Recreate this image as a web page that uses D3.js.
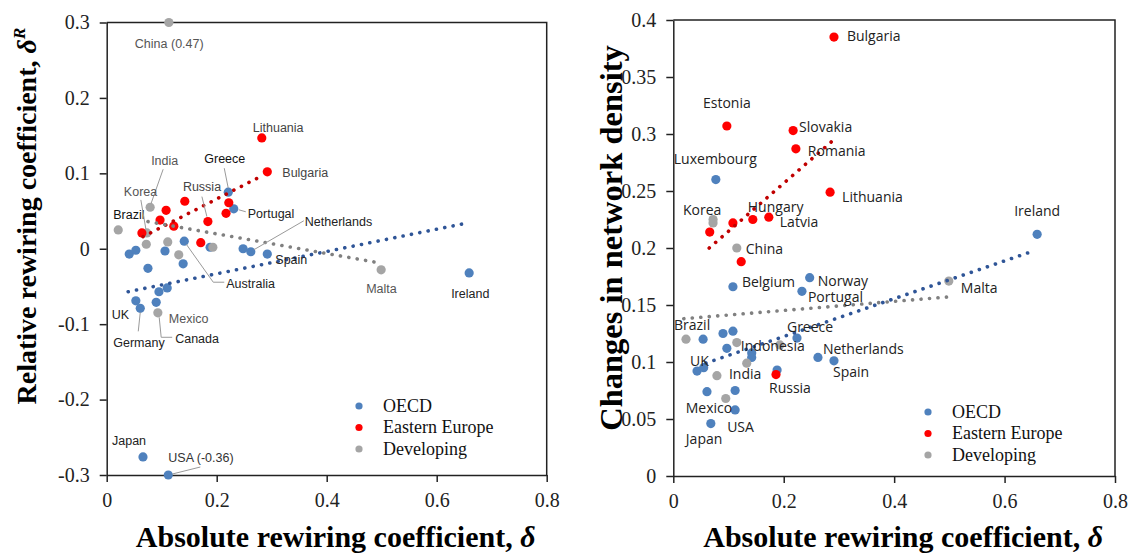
<!DOCTYPE html>
<html><head><meta charset="utf-8">
<script src="https://cdn.jsdelivr.net/npm/d3@7"></script>
<style>body{margin:0;background:#fff} svg{display:block}</style>
</head><body><svg id="c" width="1141" height="555"></svg>
<script>
// ================= DATA =================
const groups = ["OECD", "Eastern Europe", "Developing"];
const xTicks = [0, 0.2, 0.4, 0.6, 0.8];

// ---- Left panel: relative rewiring coefficient vs absolute rewiring coefficient
const L_oecdNames = ["Greece","Portugal","","","","","Australia","","","","Netherlands","Spain","","","Canada","UK","Germany","Ireland","Japan","USA (-0.36)"];
const L_oecdX = [0.221,0.231,0.041,0.053,0.075,0.106,0.141,0.139,0.188,0.248,0.262,0.292,0.110,0.095,0.090,0.053,0.061,0.659,0.066,0.112];
const L_oecdY = [0.075,0.053,-0.007,-0.002,-0.026,-0.003,0.010,-0.020,0.002,0.000,-0.004,-0.007,-0.052,-0.057,-0.071,-0.069,-0.079,-0.032,-0.276,-0.36];
const L_eeNames = ["Lithuania","Bulgaria","","","Russia","","","","","",""];
const L_eeX = [0.282,0.292,0.222,0.217,0.184,0.142,0.108,0.097,0.122,0.064,0.171];
const L_eeY = [0.147,0.102,0.061,0.047,0.036,0.063,0.051,0.038,0.030,0.021,0.008];
const L_devNames = ["China (0.47)","India","Brazil","Korea","","","","","Mexico","Malta"];
const L_devX = [0.113,0.079,0.021,0.073,0.072,0.111,0.131,0.193,0.093,0.499];
const L_devY = [0.47,0.055,0.025,0.021,0.006,0.009,-0.008,0.002,-0.085,-0.028];
const L_yTicks = [-0.3,-0.2,-0.1,0,0.1,0.2,0.3];
// linear trend end points per group
const L_trendX = [[0.039,0.648],[0.066,0.283],[0.075,0.490]];
const L_trendY = [[-0.057,0.033],[0.016,0.097],[0.036,-0.018]];

// ---- Right panel: changes in network density vs absolute rewiring coefficient
const R_oecdNames = ["Luxembourg","Norway","Portugal","Belgium","Ireland","","","","","Greece","","","UK","","Netherlands","Spain","","","","USA","Japan"];
const R_oecdX = [0.077,0.247,0.233,0.108,0.659,0.054,0.090,0.108,0.097,0.224,0.142,0.142,0.043,0.055,0.262,0.291,0.188,0.061,0.112,0.112,0.068];
const R_oecdY = [0.260,0.174,0.162,0.166,0.212,0.120,0.125,0.127,0.112,0.121,0.108,0.104,0.092,0.095,0.104,0.101,0.093,0.074,0.075,0.058,0.046];
const R_eeNames = ["Bulgaria","Estonia","Slovakia","Romania","Lithuania","","","Hungary","Latvia","","Russia"];
const R_eeX = [0.291,0.097,0.217,0.222,0.284,0.108,0.066,0.144,0.173,0.123,0.186];
const R_eeY = [0.385,0.307,0.303,0.287,0.249,0.222,0.214,0.225,0.227,0.188,0.089];
const R_devNames = ["Korea","","China","Malta","Brazil","","Indonesia","","India","Mexico"];
const R_devX = [0.072,0.072,0.115,0.499,0.023,0.115,0.193,0.133,0.079,0.095];
const R_devY = [0.225,0.222,0.200,0.171,0.120,0.117,0.115,0.099,0.088,0.068];
const R_yTicks = [0,0.05,0.1,0.15,0.2,0.25,0.3,0.35,0.4];
const R_trendX = [[0.059,0.644],[0.065,0.293],[0.019,0.496]];
const R_trendY = [[0.099,0.196],[0.200,0.296],[0.138,0.157]];

// ================= STYLE / LAYOUT =================
const markColor = ["#4F81BD", "#FF0000", "#A5A5A5"];
const trendColor = ["#2F5597", "#C00000", "#808080"];
// label placement: pixel offset from its point, optional leader polyline (offsets)
const L_labelLayout = {
  "Greece": {dx:-24, dy:-34, c:"#111", leader:[[-4,-24],[0,-4]]},
  "Portugal": {dx:14, dy:5, c:"#222", leader:[[5,1],[12,3]]},
  "Australia": {dx:42, dy:42, c:"#222", leader:[[2,3],[29,41],[40,41]]},
  "Netherlands": {dx:54, dy:-30, c:"#222", leader:[[53,-31],[3,-2]]},
  "Spain": {dx:8, dy:6, c:"#222"},
  "Canada": {dx:19, dy:36, c:"#222", leader:[[3,15],[5,35],[16,35]]},
  "UK": {dx:-24, dy:14, c:"#222"},
  "Germany": {dx:-27, dy:34, c:"#222", leader:[[0,4],[-2,23]]},
  "Ireland": {dx:-18, dy:21, c:"#222"},
  "Japan": {dx:-31, dy:-16, c:"#222"},
  "USA (-0.36)": {dx:0, dy:-17, c:"#333", leader:[[4,-1],[32,-8]]},
  "Lithuania": {dx:-9, dy:-10, c:"#444"},
  "Bulgaria": {dx:15, dy:1, c:"#444"},
  "Russia": {dx:-25, dy:-35, c:"#444", leader:[[-6,-25],[-1,-5]]},
  "China (0.47)": {dx:-34, dy:21, c:"#555"},
  "India": {dx:1, dy:-47, c:"#555", leader:[[13,-38],[1,-4]]},
  "Brazil": {dx:-5, dy:-15, c:"#111"},
  "Korea": {dx:-23, dy:-41, c:"#555", leader:[[-6,-33],[-1,-4]]},
  "Mexico": {dx:11, dy:6, c:"#555"},
  "Malta": {dx:-15, dy:19, c:"#555"}
};
const R_labelLayout = {
  "Bulgaria": {dx:13, dy:-1}, "Estonia": {dx:0, dy:-23, a:"middle"},
  "Slovakia": {dx:6, dy:-3}, "Romania": {dx:12, dy:2},
  "Luxembourg": {dx:-42, dy:-21}, "Lithuania": {dx:12, dy:5},
  "Ireland": {dx:-23, dy:-23}, "Korea": {dx:-30, dy:-9},
  "Hungary": {dx:-5, dy:-12}, "Latvia": {dx:11, dy:5},
  "China": {dx:9, dy:1}, "Belgium": {dx:9, dy:-5},
  "Norway": {dx:8, dy:3}, "Portugal": {dx:6, dy:6},
  "Malta": {dx:12, dy:7}, "Brazil": {dx:-12, dy:-14},
  "Greece": {dx:-10, dy:-11}, "Indonesia": {dx:-39, dy:1},
  "Netherlands": {dx:5, dy:-8}, "UK": {dx:-7, dy:-10},
  "Spain": {dx:-1, dy:11}, "India": {dx:12, dy:-2},
  "Russia": {dx:-7, dy:14}, "Mexico": {dx:-40, dy:10},
  "USA": {dx:-8, dy:17}, "Japan": {dx:-25, dy:16}
};

const svg = d3.select("#c");
const serif = "'Liberation Serif','Times New Roman',serif";
const fmt = d => String(Math.round(d * 100) / 100);

function panel(cfg) {
  const x = d3.scaleLinear().domain([0, 0.8]).range(cfg.xr);
  const y = d3.scaleLinear().domain(cfg.yd).range(cfg.yr).clamp(true);
  const g = svg.append("g");

  // frame (top + right)
  g.append("path")
    .attr("d", `M${x(0)},${y(cfg.yd[1])}H${x(0.8)}V${y(cfg.yd[0])}`)
    .attr("fill", "none").attr("stroke", "#222").attr("stroke-width", 1.5);

  const ax = g.append("g").attr("transform", `translate(0,${y(cfg.yd[0])})`)
    .call(d3.axisBottom(x).tickValues(xTicks).tickFormat(fmt).tickSize(7).tickSizeOuter(0).tickPadding(11));
  const ay = g.append("g").attr("transform", `translate(${x(0)},0)`)
    .call(d3.axisLeft(y).tickValues(cfg.yTicks).tickFormat(fmt).tickSize(7).tickSizeOuter(0).tickPadding(10));
  [ax, ay].forEach(a => {
    a.selectAll("path,line").attr("stroke", "#222").attr("stroke-width", 1.5);
    a.selectAll("text").attr("font-family", serif).attr("font-size", 20).attr("fill", "#222");
  });

  // points (OECD, Developing, Eastern Europe order)
  const series = cfg.series;
  [0, 2, 1].forEach(gi => {
    const s = series[gi];
    g.append("g").selectAll("circle").data(s.x.map((v, i) => [v, s.y[i]]))
      .join("circle").attr("cx", d => x(d[0])).attr("cy", d => y(d[1]))
      .attr("r", 4.6).attr("fill", markColor[gi]);
  });

  // trend lines
  cfg.tx.forEach((tx, gi) => {
    g.append("line")
      .attr("x1", x(tx[0])).attr("y1", y(cfg.ty[gi][0]))
      .attr("x2", x(tx[1])).attr("y2", y(cfg.ty[gi][1]))
      .attr("stroke", trendColor[gi]).attr("stroke-width", 3.6)
      .attr("stroke-linecap", "round").attr("stroke-dasharray", "0.1 8.4");
  });

  // labels
  series.forEach((s, gi) => {
    s.names.forEach((nm, i) => {
      if (!nm) return;
      const lay = cfg.layout[nm]; if (!lay) return;
      const px = x(s.x[i]), py = y(s.y[i]);
      if (lay.leader) {
        g.append("path").attr("d", d3.line()(lay.leader.map(p => [px + p[0], py + p[1]])))
          .attr("fill", "none").attr("stroke", "#9a9a9a").attr("stroke-width", 1);
      }
      g.append("text").attr("x", px + lay.dx).attr("y", py + lay.dy).attr("dy", "0.35em")
        .attr("text-anchor", lay.a || "start")
        .attr("font-family", cfg.labelFont).attr("font-size", cfg.labelSize)
        .attr("fill", lay.c || "#222").text(nm);
    });
  });

  // legend
  groups.forEach((gn, gi) => {
    const ly = cfg.leg[1] + gi * 21.5;
    g.append("circle").attr("cx", cfg.leg[0]).attr("cy", ly).attr("r", 3.6).attr("fill", markColor[gi]);
    g.append("text").attr("x", cfg.leg[0] + 24).attr("y", ly).attr("dy", "0.33em")
      .attr("font-family", serif).attr("font-size", 18).attr("fill", "#111").text(gn);
  });

  // axis titles
  const xt = g.append("text").attr("x", (cfg.xr[0] + cfg.xr[1]) / 2 + 9).attr("y", 547)
    .attr("text-anchor", "middle").attr("font-family", serif).attr("font-weight", "bold")
    .attr("font-size", 30).attr("fill", "#000");
  xt.append("tspan").text("Absolute rewiring coefficient, ");
  xt.append("tspan").attr("font-style", "italic").text("δ");

  const yt = g.append("text").attr("transform", `translate(${cfg.yTitle[0]},${cfg.yTitle[1]}) rotate(-90)`)
    .attr("text-anchor", "middle").attr("font-family", serif).attr("font-weight", "bold")
    .attr("font-size", cfg.yTitleSize).attr("fill", "#000");
  yt.append("tspan").text(cfg.yTitleText);
  if (cfg.sup) {
    yt.append("tspan").attr("font-style", "italic").text("δ");
    yt.append("tspan").attr("font-style", "italic").attr("font-size", cfg.yTitleSize * 0.62)
      .attr("dy", -11).text(cfg.sup);
  }
}

panel({
  xr: [106.7, 546.7], yd: [-0.3, 0.3], yr: [475, 22.5], yTicks: L_yTicks,
  series: [
    {names: L_oecdNames, x: L_oecdX, y: L_oecdY},
    {names: L_eeNames, x: L_eeX, y: L_eeY},
    {names: L_devNames, x: L_devX, y: L_devY}
  ],
  tx: L_trendX, ty: L_trendY, layout: L_labelLayout,
  labelFont: "'Liberation Sans',Arial,sans-serif", labelSize: 12.5,
  leg: [359, 406],
  yTitle: [36, 216], yTitleSize: 28, yTitleText: "Relative rewiring coefficient, ", sup: "R"
});
panel({
  xr: [673.3, 1115], yd: [0, 0.4], yr: [476, 20], yTicks: R_yTicks,
  series: [
    {names: R_oecdNames, x: R_oecdX, y: R_oecdY},
    {names: R_eeNames, x: R_eeX, y: R_eeY},
    {names: R_devNames, x: R_devX, y: R_devY}
  ],
  tx: R_trendX, ty: R_trendY, layout: R_labelLayout,
  labelFont: "'Open Sans','Noto Sans',sans-serif", labelSize: 14,
  leg: [928, 412],
  yTitle: [622, 238], yTitleSize: 32.5, yTitleText: "Changes in network density", sup: null
});
</script></body></html>
